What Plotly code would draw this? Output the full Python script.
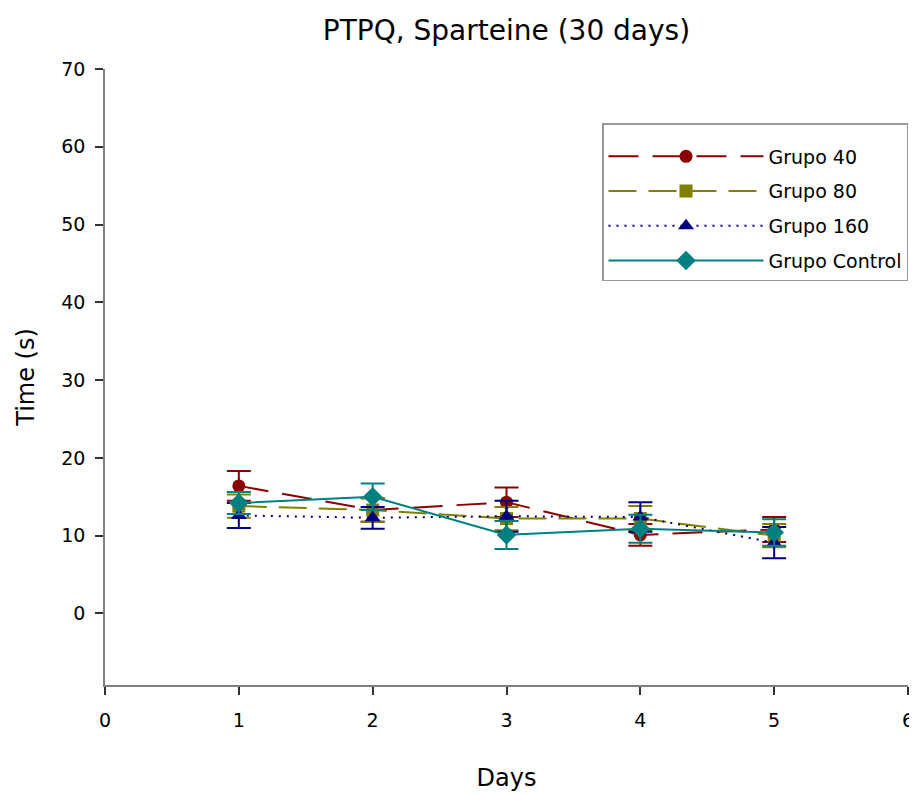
import plotly.graph_objects as go

days = [1, 2, 3, 4, 5]
g40 = [16.4, 13.3, 14.3, 10.1, 10.8]
g40_err = [1.9, 1.5, 1.9, 1.4, 1.6]
g80 = [13.8, 13.3, 12.2, 12.2, 10.0]
g80_err = [1.5, 1.5, 1.5, 1.6, 1.5]
g160 = [12.6, 12.3, 12.5, 12.4, 9.1]
g160_err = [1.6, 1.4, 2.0, 1.9, 2.0]
gctrl = [14.2, 15.0, 10.1, 10.9, 10.4]
gctrl_err = [1.4, 1.7, 1.8, 1.8, 1.7]

names = ["Grupo 40", "Grupo 80", "Grupo 160", "Grupo Control"]
colors = ["#8B0000", "#808000", "#000080", "#008080"]
dashes = ["30px,14px", "28px,12px", "2px,6px", "solid"]
symbols = ["circle", "square", "triangle-up", "diamond"]
sizes = [13, 13, 14, 15]
series = [(g40, g40_err), (g80, g80_err), (g160, g160_err), (gctrl, gctrl_err)]

FONT = "DejaVu Sans"
# page has an 8px body margin; margins compensate for it
L, R, T, B = 97, 17, 61, 117
fig = go.Figure()
for i, (vals, errs) in enumerate(series):
    fig.add_trace(go.Scatter(
        x=days, y=vals, name=names[i], mode="lines+markers",
        legendgroup=names[i],
        line=dict(color=colors[i], dash=dashes[i], width=2),
        marker=dict(symbol=symbols[i], size=sizes[i], color=colors[i]),
        error_y=dict(type="data", array=errs, visible=True,
                     color=colors[i], thickness=2, width=12),
    ))

plot_w = 917 - L - R
plot_h = 794 - T - B
fig.update_layout(
    width=917, height=794,
    paper_bgcolor="white", plot_bgcolor="white",
    margin=dict(l=L, r=R, t=T, b=B),
    font=dict(family=FONT, color="black"),
    title=dict(text="PTPQ, Sparteine (30 days)", x=0.5, xanchor="center",
               xref="paper",
               y=1 - 22 / 794, yanchor="middle", yref="container",
               font=dict(size=28, family=FONT)),
    legend=dict(x=(602 - 8 - L) / plot_w, xanchor="left",
                y=1 - (115 - T) / plot_h, yanchor="top",
                bordercolor="#999999", borderwidth=1.5, bgcolor="white",
                font=dict(size=19, family=FONT), tracegroupgap=7,
                itemwidth=155,
                title=dict(text=" ", font=dict(size=10))),
)
fig.update_xaxes(range=[0, 6], tickvals=[0, 1, 2, 3, 4, 5, 6],
                 automargin=False,
                 showgrid=False, zeroline=False, showline=True,
                 linecolor="#808080", linewidth=1.5, ticks="outside",
                 ticklen=8, tickcolor="#333333", tickwidth=1.5,
                 tickfont=dict(size=19), ticklabelstandoff=9,
                 title=dict(text="Days", font=dict(size=24), standoff=40))
fig.update_yaxes(range=[-9.2, 70], tickvals=[0, 10, 20, 30, 40, 50, 60, 70],
                 automargin=False,
                 showgrid=False, zeroline=False, showline=True,
                 linecolor="#808080", linewidth=1.5, ticks="outside",
                 ticklen=8, tickcolor="#333333", tickwidth=1.5,
                 tickfont=dict(size=19), ticklabelstandoff=6,
                 title=dict(text="Time (s)", font=dict(size=24), standoff=20))

fig.write_html("out.html")
